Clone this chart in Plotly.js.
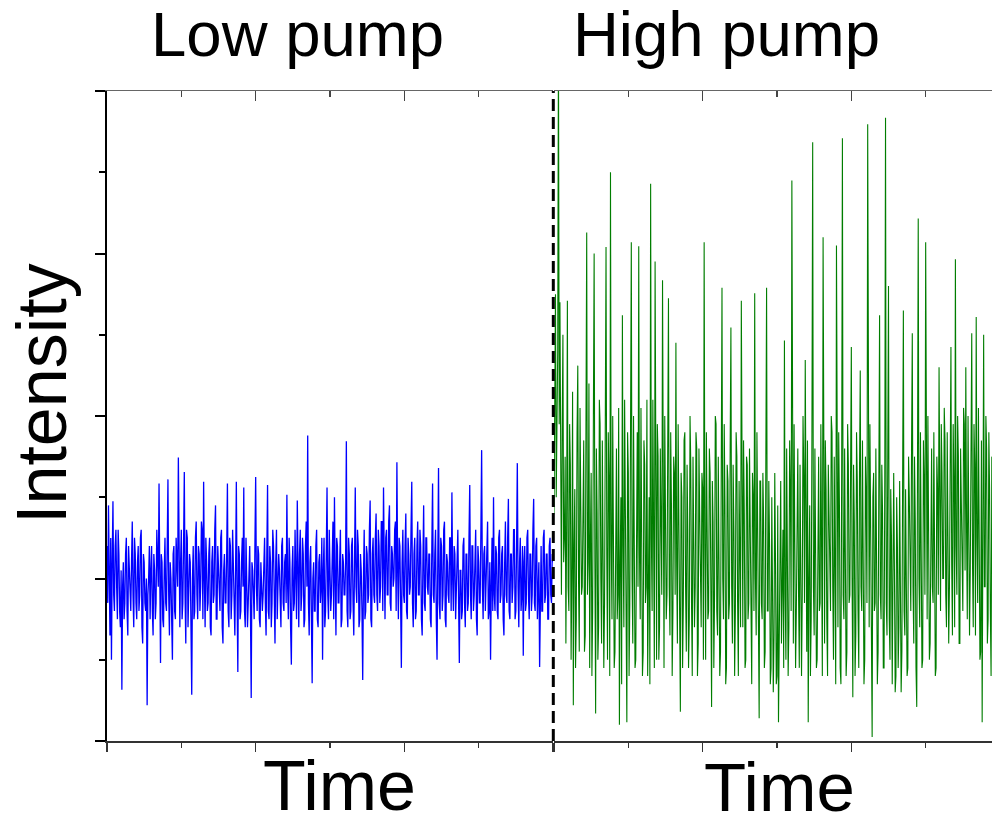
<!DOCTYPE html>
<html>
<head>
<meta charset="utf-8">
<script src="https://cdn.plot.ly/plotly-3.0.1.min.js"></script>
<style>html,body{margin:0;padding:0;background:#fff;}#chart{width:992px;height:826px;}</style>
</head>
<body>
<div id="chart"></div>
<script>
// ---- data ----
const panelTitles = ["Low pump", "High pump"];
const xLabel = "Time";
const yLabel = "Intensity";
const timeStep = 0.01;

const lowPump = [
2.4,1.7,2.9,2.0,1.3,2.5,1.0,2.2,2.95,1.8,1.6,2.4,2.6,1.9,1.5,2.6,2.3,1.6,1.4,2.1,
0.63,1.9,2.2,1.5,1.7,2.3,2.5,1.6,1.3,2.4,2.1,1.7,1.6,2.2,2.7,1.8,1.4,2.5,2.3,1.7,
1.5,2.2,2.4,1.6,1.8,2.5,2.6,1.4,1.2,2.3,2.2,1.7,1.6,2.0,0.44,1.8,2.0,2.4,1.5,2.1,
2.4,1.6,1.3,2.3,2.1,1.5,1.7,2.6,2.3,1.9,3.17,1.6,0.96,2.3,2.2,1.5,1.4,2.1,2.5,1.7,
1.6,2.4,3.22,1.8,1.3,2.2,2.0,1.5,1.0,2.3,2.4,1.6,1.5,2.5,2.3,1.9,3.49,1.7,1.4,2.2,
2.6,1.5,1.7,2.4,3.31,1.8,1.2,2.6,2.5,1.4,1.8,2.3,2.2,1.6,0.57,2.0,2.4,1.5,1.6,2.5,
2.7,1.8,1.5,2.4,2.3,1.6,1.9,2.7,2.6,1.5,3.19,2.0,1.4,2.5,2.2,1.6,1.7,2.3,2.5,1.4,
1.3,2.2,2.4,1.7,1.8,2.6,2.9,1.5,1.5,2.4,2.1,1.8,1.6,2.5,2.6,1.4,1.2,2.1,2.3,1.7,
1.7,2.3,3.17,1.6,1.4,2.5,2.4,1.5,1.8,2.6,2.2,1.7,1.3,2.1,3.19,1.8,0.85,2.4,2.3,1.5,
1.6,2.2,2.5,1.9,3.12,1.6,1.4,2.5,2.0,1.4,1.7,2.3,2.4,1.6,0.53,2.2,2.1,1.8,1.5,2.4,
3.25,1.9,1.6,2.4,2.3,1.5,1.4,2.2,2.0,1.6,1.8,2.5,2.5,1.7,1.3,2.3,3.15,1.6,1.5,2.4,
2.2,1.4,1.7,2.6,2.4,1.8,1.2,2.2,2.6,1.5,1.8,2.3,2.1,1.6,1.4,2.4,2.5,1.7,1.6,2.2,
2.3,1.7,3.03,1.9,1.5,2.5,2.2,1.4,0.94,2.1,2.4,1.6,1.7,2.6,2.1,1.5,2.96,1.8,1.4,2.3,
2.6,1.6,1.8,2.5,2.3,1.4,1.5,2.4,2.7,1.9,3.76,1.7,1.3,2.2,2.4,1.5,0.71,2.0,2.2,1.6,
1.6,2.4,2.6,1.5,1.4,2.2,2.3,1.7,1.9,2.5,1.0,2.1,2.5,1.4,1.6,2.3,3.12,1.8,1.5,2.6,
2.2,1.6,1.8,2.4,2.7,1.5,3.0,2.0,1.3,2.5,2.4,1.7,1.7,2.2,2.6,1.4,1.5,2.3,2.2,1.8,
1.8,2.2,3.69,1.6,1.4,2.5,2.3,1.5,1.6,2.4,2.5,1.7,1.3,2.2,3.12,1.9,1.7,2.6,2.4,1.4,
1.5,2.3,2.1,1.6,0.75,2.0,2.6,1.5,1.6,2.4,2.3,1.7,1.8,2.6,2.96,1.5,1.4,2.3,2.5,1.8,
1.7,2.5,2.8,1.8,1.6,2.6,2.4,1.7,1.9,2.7,2.7,1.6,3.12,2.2,1.5,2.5,2.6,1.8,1.8,2.7,
2.9,1.7,1.6,2.4,2.3,1.9,2.0,2.6,2.7,1.6,3.43,2.1,1.5,2.5,2.4,1.7,0.9,2.2,2.6,1.8,
1.7,2.4,2.8,1.6,1.5,2.5,2.3,1.8,1.9,2.6,3.19,1.7,1.4,2.3,2.5,1.5,1.6,2.4,2.7,1.8,
1.8,2.6,2.4,1.5,1.3,2.2,2.9,1.7,1.6,2.5,2.5,1.9,1.8,2.3,2.3,1.5,1.4,2.4,3.17,1.8,
1.7,2.3,2.6,1.5,1.0,2.2,3.36,1.7,1.5,2.5,2.4,1.6,1.8,2.6,2.7,1.5,1.4,2.3,2.2,1.8,
1.7,2.5,2.5,1.6,3.06,2.0,1.6,2.4,2.3,1.5,1.9,2.6,2.6,1.7,0.96,2.1,2.1,1.5,1.6,2.4,
2.5,1.7,1.4,2.3,2.3,1.6,1.7,2.5,3.15,1.8,1.5,2.4,2.4,1.6,1.8,2.2,2.6,1.5,1.3,2.4,
2.2,1.7,1.7,2.6,3.58,1.9,1.5,2.3,2.4,1.6,1.9,2.5,2.7,1.5,1.6,2.2,1.0,1.9,2.5,1.6,
3.0,1.8,1.6,2.4,2.3,1.6,1.5,2.5,2.6,1.7,1.8,2.3,2.4,1.5,1.3,2.2,2.7,1.8,1.7,2.5,
2.98,1.6,1.5,2.3,2.3,1.7,1.9,2.6,2.6,1.5,1.6,2.4,3.42,1.9,1.4,2.2,2.5,1.6,1.8,2.4,
1.05,2.2,2.4,1.6,1.7,2.5,2.6,1.8,1.5,2.3,2.3,1.6,1.8,2.6,2.98,1.7,1.6,2.4,2.5,1.5,
1.9,2.2,0.91,1.9,2.4,1.6,1.6,2.5,2.6,1.7,1.8,2.3,2.3,1.5,1.5,2.4,2.5,1.8,1.7,2.3,
2.2
];

const highPump = [
2.8,4.2,5.5,3.0,3.6,4.8,8.6,3.9,5.4,2.6,1.8,3.8,5.0,2.2,2.5,3.5,1.2,2.7,5.42,1.9,
1.6,3.9,3.4,1.0,2.0,4.3,0.44,2.4,3.1,0.9,1.5,3.8,4.62,2.0,1.1,4.1,3.0,1.8,1.9,3.7,
3.7,1.1,1.3,3.9,6.26,1.8,2.2,4.4,0.9,2.5,3.3,0.8,1.6,4.0,6.0,2.2,0.34,3.6,2.8,1.0,
1.4,4.2,3.9,2.0,1.2,3.7,2.6,0.9,1.7,4.3,6.08,2.3,1.0,3.8,3.2,0.8,7.0,2.4,1.5,4.0,
2.9,0.9,1.1,3.6,3.6,1.5,1.8,4.1,0.2,2.2,3.0,0.7,5.24,2.4,1.4,4.2,2.5,1.7,0.23,3.8,
3.3,0.8,1.7,3.9,6.14,2.0,1.2,4.0,2.7,0.9,1.0,3.5,3.8,1.9,6.09,2.3,1.5,4.1,2.4,0.8,
1.1,3.7,3.4,1.7,1.9,4.2,0.8,2.3,3.0,0.7,6.86,2.5,1.6,4.2,2.2,0.9,5.9,2.1,1.0,3.9,
3.5,1.0,1.4,3.6,2.6,1.8,5.67,2.2,0.9,4.0,3.1,1.5,1.8,3.7,5.45,1.9,1.3,3.8,2.9,0.8,
1.6,3.5,3.3,1.8,4.9,2.2,1.2,3.9,2.4,1.5,0.36,3.3,3.0,0.9,1.7,3.7,3.8,1.9,1.1,3.4,
2.6,0.9,1.5,4.0,3.4,1.7,0.8,3.5,2.2,1.4,1.9,3.8,3.6,0.8,1.2,3.6,2.8,1.8,1.4,3.3,
3.1,1.0,6.14,2.4,1.0,3.8,2.5,1.5,1.6,3.6,3.3,1.9,0.42,3.2,2.7,0.9,1.8,4.0,3.9,1.6,
1.3,3.5,2.4,0.8,1.1,3.7,5.58,2.0,1.5,3.9,2.9,0.7,0.9,3.4,3.2,1.5,1.7,3.6,5.09,1.9,
1.2,3.4,2.6,0.8,1.6,3.8,3.5,1.7,0.8,3.2,2.3,1.4,5.42,2.1,1.4,3.7,2.8,0.9,1.0,3.5,
3.4,1.5,1.7,3.6,2.2,0.8,0.7,3.3,3.0,1.6,5.51,2.0,1.3,3.8,2.5,0.9,0.28,3.2,3.2,1.7,
1.5,3.3,2.7,0.9,1.1,3.5,5.58,1.6,1.6,3.2,2.4,0.7,0.9,3.0,1.9,0.6,1.3,3.3,2.2,0.7,
0.8,2.9,0.23,1.6,2.0,3.2,1.2,2.4,2.6,0.9,4.93,1.8,1.0,3.6,2.3,0.8,1.4,3.7,3.1,1.6,
6.9,2.2,1.2,3.9,2.8,0.9,1.6,3.5,3.6,1.8,0.9,3.4,2.5,0.8,1.8,4.0,3.3,1.7,4.69,2.3,
1.1,3.7,0.23,2.0,2.9,0.8,1.5,3.8,7.37,1.9,1.3,3.6,2.7,0.9,1.0,3.3,3.5,1.6,1.7,3.9,
2.4,0.8,6.2,2.1,1.2,3.7,3.1,1.5,0.8,3.4,2.6,1.7,1.6,4.0,3.8,1.9,1.0,3.5,2.3,0.7,
6.1,2.2,1.4,3.8,2.9,0.9,0.7,3.3,7.42,1.8,1.5,3.6,2.5,0.8,1.1,3.9,3.4,1.7,1.8,3.5,
4.85,2.0,0.54,3.4,2.7,0.8,1.3,3.8,3.2,1.6,0.9,3.3,4.56,1.9,1.6,3.7,2.4,0.7,1.0,3.5,
3.0,1.7,7.59,2.2,1.4,3.9,2.6,0.8,0.05,3.0,3.3,1.6,1.7,3.6,2.2,0.7,1.1,3.4,5.24,1.8,
1.5,3.4,2.8,0.9,0.9,3.2,7.67,1.7,1.3,3.5,5.6,1.5,1.0,3.1,2.5,0.7,1.6,3.3,2.1,0.6,
0.8,3.0,2.4,0.9,1.4,3.2,1.9,0.6,1.1,3.4,5.3,1.6,1.3,3.1,2.3,0.8,0.9,3.5,3.0,1.6,
1.6,3.6,5.02,1.9,1.2,3.5,2.7,0.9,0.42,3.3,6.43,2.0,1.4,3.8,2.6,0.9,1.0,3.7,3.2,1.8,
6.14,2.2,1.5,4.0,2.8,1.0,1.2,3.6,3.6,1.9,1.7,3.8,2.4,0.8,0.9,3.5,3.1,1.8,4.6,2.4,
1.6,3.9,3.3,2.0,2.0,4.1,3.7,1.8,1.4,3.8,2.9,1.2,1.9,4.2,4.85,2.2,1.3,3.9,3.2,1.4,
5.93,2.4,1.8,4.0,3.5,1.2,1.2,3.6,2.7,1.8,1.6,4.1,3.9,2.1,4.6,2.6,1.5,4.0,3.0,1.3,
2.1,4.0,5.02,2.2,1.4,3.9,3.4,1.3,5.22,2.5,1.7,4.1,2.8,1.0,1.1,3.7,0.23,2.4,5.0,1.9,
1.9,4.0,3.6,1.2,1.5,3.8,3.1,1.6,0.8,3.5,2.9,1.3,2.0,4.2,3.8,2.0,1.3,3.7,2.6,1.4,
2.2
];

// ---- chart ----
const W = 992, H = 826;
const px = v => v / W;          // pixel -> paper x
const py = v => (H - v) / H;    // pixel -> paper y

const tLow = lowPump.map((_, i) => i * timeStep);
const tHigh = highPump.map((_, i) => i * timeStep);

const font = "Liberation Sans, Arial, Helvetica, sans-serif";

const traces = [
  {type: "scatter", mode: "lines", x: tLow, y: lowPump, xaxis: "x", yaxis: "y",
   line: {color: "#0000ff", width: 1.3}, hoverinfo: "skip"},
  {type: "scatter", mode: "lines", x: tHigh, y: highPump, xaxis: "x2", yaxis: "y",
   line: {color: "#007d00", width: 1.1}, hoverinfo: "skip"},
  // empty traces so the top (mirror) axes are drawn
  {type: "scatter", mode: "lines", x: [], y: [], xaxis: "x3", yaxis: "y", hoverinfo: "skip"},
  {type: "scatter", mode: "lines", x: [], y: [], xaxis: "x4", yaxis: "y", hoverinfo: "skip"}
];

const leftDom = [px(107), px(553)];
const rightDom = [px(554), 1];
const unitPx = 446 / 6;
const rightRange = [0, 438 / unitPx];

function bottomAxis(domain, range) {
  return {domain: domain, range: range, anchor: "y", showgrid: false, zeroline: false,
    showticklabels: false, showline: true, linecolor: "#333", linewidth: 1.5,
    ticks: "outside", tick0: 0, dtick: 2, ticklen: 9, tickwidth: 1.5, tickcolor: "#333",
    minor: {ticks: "outside", tick0: 0, dtick: 1, ticklen: 5, tickwidth: 1.5, tickcolor: "#333"},
    fixedrange: true};
}
function topAxis(over, domain, range) {
  return {overlaying: over, domain: domain, side: "top", anchor: "y", range: range, showgrid: false,
    zeroline: false, showticklabels: false, showline: true, linecolor: "#666", linewidth: 1.5,
    ticks: "inside", tick0: 0, dtick: 2, ticklen: 10, tickwidth: 1.5, tickcolor: "#444",
    minor: {ticks: "inside", tick0: 0, dtick: 1, ticklen: 6, tickwidth: 1.5, tickcolor: "#444"},
    fixedrange: true};
}

const layout = {
  width: W, height: H,
  margin: {l: 0, r: 0, t: 0, b: 0, pad: 0},
  paper_bgcolor: "#fff", plot_bgcolor: "rgba(0,0,0,0)",
  showlegend: false, hovermode: false,
  font: {family: font, color: "#000"},
  xaxis: bottomAxis(leftDom, [0, 6]),
  xaxis2: bottomAxis(rightDom, rightRange),
  xaxis3: topAxis("x", leftDom, [0, 6]),
  xaxis4: topAxis("x2", rightDom, rightRange),
  yaxis: {domain: [py(741), py(91)], range: [0, 8], anchor: "x", showgrid: false,
    zeroline: false, showticklabels: false, showline: true, linecolor: "#000", linewidth: 2.5,
    ticks: "outside", tick0: 0, dtick: 2, ticklen: 10, tickwidth: 2, tickcolor: "#000",
    minor: {ticks: "outside", tick0: 0, dtick: 1, ticklen: 6, tickwidth: 2, tickcolor: "#000"},
    fixedrange: true},
  shapes: [
    {type: "line", xref: "paper", yref: "paper", x0: px(553.3), x1: px(553.3),
     y0: py(741), y1: py(91), layer: "above",
     line: {color: "#000", width: 3, dash: "12px,6px"}}
  ],
  annotations: [
    {text: panelTitles[0], xref: "paper", yref: "paper", x: px(297), y: py(33.5),
     xanchor: "center", yanchor: "middle", showarrow: false, font: {family: font, size: 63.5, color: "#000"}},
    {text: panelTitles[1], xref: "paper", yref: "paper", x: px(726.5), y: py(33.5),
     xanchor: "center", yanchor: "middle", showarrow: false, font: {family: font, size: 63.5, color: "#000"}},
    {text: xLabel, xref: "paper", yref: "paper", x: px(339), y: py(786),
     xanchor: "center", yanchor: "middle", showarrow: false, font: {family: font, size: 70, color: "#000"}},
    {text: xLabel, xref: "paper", yref: "paper", x: px(779), y: py(787.5),
     xanchor: "center", yanchor: "middle", showarrow: false, font: {family: font, size: 69, color: "#000"}},
    {text: yLabel, xref: "paper", yref: "paper", x: px(42), y: py(394), textangle: -90,
     xanchor: "center", yanchor: "middle", showarrow: false, font: {family: font, size: 70, color: "#000"}}
  ]
};

Plotly.newPlot("chart", traces, layout, {staticPlot: true, displayModeBar: false});
</script>
</body>
</html>
